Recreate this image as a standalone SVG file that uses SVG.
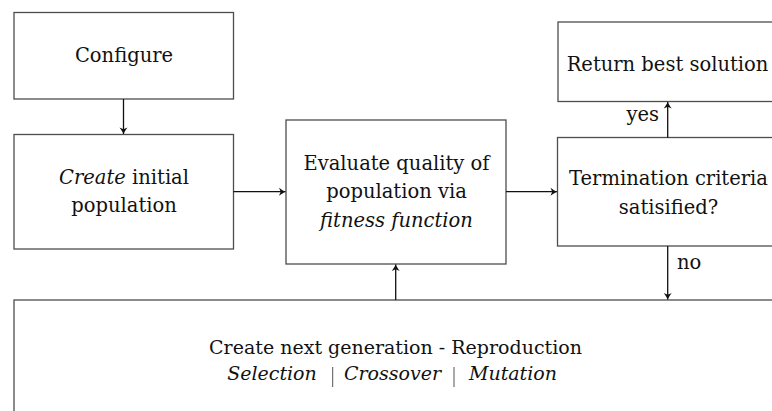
<svg xmlns="http://www.w3.org/2000/svg" width="772" height="411" viewBox="0 0 772 411">
  <style>
    .box { fill: #ffffff; stroke: #4d4d4d; stroke-width: 1.3; }
    .lbl { font-family: "DejaVu Serif", "Liberation Serif", serif; font-size: 19.5px; fill: #111111; text-anchor: middle; }
    .sm { font-size: 19px; }
    .it { font-style: italic; }
    .edge { fill: none; stroke: #111111; stroke-width: 1.3; marker-end: url(#arrow); }
    .sep { stroke: #555555; stroke-width: 1; }
  </style>
  <defs>
    <marker id="arrow" markerUnits="userSpaceOnUse" markerWidth="12" markerHeight="12" viewBox="-8 -6 10 12" refX="0" refY="0" orient="auto">
      <path d="M0,0 C-2,-0.8 -4,-2.2 -6.5,-4 L-4.8,0 L-6.5,4 C-4,2.2 -2,0.8 0,0 Z" fill="#111111"/>
    </marker>
  </defs>

  <rect width="772" height="411" fill="#ffffff"/>

  <g id="configure">
    <rect class="box" x="14" y="12.5" width="219.5" height="86.5"/>
    <text class="lbl" x="124" y="62">Configure</text>
  </g>

  <g id="create-initial">
    <rect class="box" x="14" y="134.5" width="219.5" height="114.5"/>
    <text class="lbl" x="124" y="183.5"><tspan class="it">Create</tspan> initial</text>
    <text class="lbl" x="124" y="211.5">population</text>
  </g>

  <g id="evaluate">
    <rect class="box" x="286" y="120" width="220" height="144"/>
    <text class="lbl" x="396.5" y="169.5">Evaluate quality of</text>
    <text class="lbl" x="396.5" y="198">population via</text>
    <text class="lbl it" x="396.5" y="226.5">fitness function</text>
  </g>

  <g id="termination">
    <rect class="box" x="557.5" y="137.5" width="240" height="108.5"/>
    <text class="lbl" x="668.5" y="185">Termination criteria</text>
    <text class="lbl" x="668.5" y="213.5">satisified?</text>
  </g>

  <g id="return-best">
    <rect class="box" x="558" y="22" width="240" height="79.5"/>
    <text class="lbl" x="667.5" y="71">Return best solution</text>
  </g>

  <g id="reproduction">
    <rect class="box" x="14" y="300" width="800" height="200"/>
    <text class="lbl sm" x="395.5" y="353.5">Create next generation - Reproduction</text>
    <text class="lbl sm it" x="272" y="379.5">Selection</text>
    <line class="sep" x1="332.7" y1="367" x2="332.7" y2="387"/>
    <text class="lbl sm it" x="392.5" y="379.5">Crossover</text>
    <line class="sep" x1="454" y1="367" x2="454" y2="387"/>
    <text class="lbl sm it" x="513" y="379.5">Mutation</text>
  </g>

  <g id="connectors">
    <line class="edge" x1="123.5" y1="99" x2="123.5" y2="134"/>
    <line class="edge" x1="233.5" y1="191.7" x2="285.5" y2="191.7"/>
    <line class="edge" x1="506" y1="191.7" x2="557" y2="191.7"/>
    <line class="edge" x1="667.7" y1="137.5" x2="667.7" y2="102"/>
    <line class="edge" x1="667.7" y1="246" x2="667.7" y2="299.5"/>
    <line class="edge" x1="395.7" y1="300" x2="395.7" y2="264.5"/>
    <text class="lbl" x="659" y="121" style="text-anchor: end">yes</text>
    <text class="lbl" x="677" y="268.5" style="text-anchor: start">no</text>
  </g>
</svg>
